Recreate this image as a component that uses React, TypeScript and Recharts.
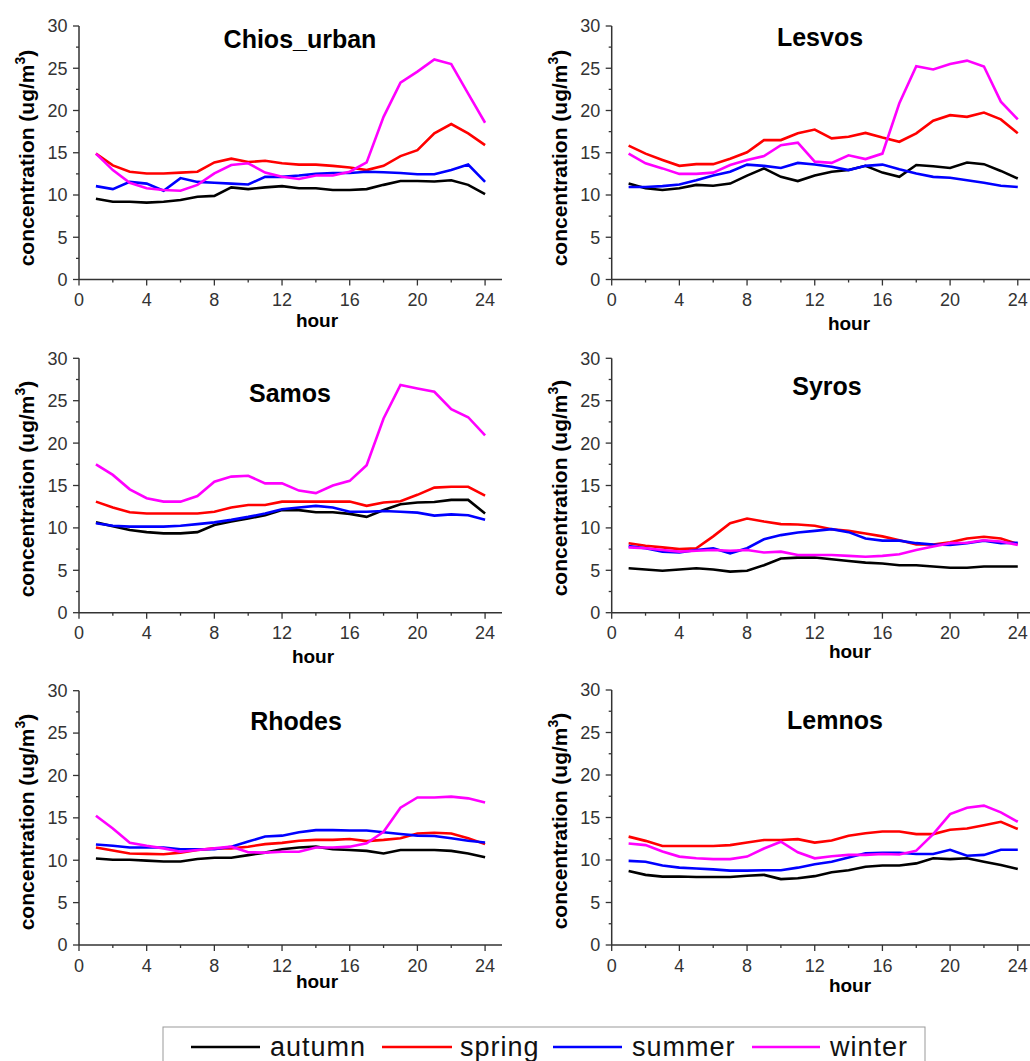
import { LineChart, Line, XAxis, YAxis } from 'recharts';

const hours = [1, 2, 3, 4, 5, 6, 7, 8, 9, 10, 11, 12, 13, 14, 15, 16, 17, 18, 19, 20, 21, 22, 23, 24];
const seasons = ['autumn', 'spring', 'summer', 'winter'];
const seasonColors = ['#000000', '#ff0000', '#0000ff', '#ff00ff'];
const xTicks = [0, 2, 4, 6, 8, 10, 12, 14, 16, 18, 20, 22, 24];
const yTicks = [0, 2.5, 5, 7.5, 10, 12.5, 15, 17.5, 20, 22.5, 25, 27.5, 30];

// Chios_urban
const chiosAutumn = [9.55, 9.2, 9.2, 9.1, 9.2, 9.4, 9.8, 9.9, 10.9, 10.7, 10.9, 11.05, 10.8, 10.8, 10.6, 10.6, 10.7, 11.2, 11.65, 11.65, 11.6, 11.75, 11.2, 10.1];
const chiosSpring = [14.9, 13.5, 12.75, 12.55, 12.55, 12.65, 12.75, 13.85, 14.3, 13.9, 14.05, 13.75, 13.6, 13.6, 13.45, 13.25, 12.95, 13.45, 14.6, 15.3, 17.3, 18.4, 17.3, 15.9];
const chiosSummer = [11.05, 10.7, 11.55, 11.35, 10.5, 12.0, 11.55, 11.45, 11.35, 11.25, 12.15, 12.15, 12.3, 12.5, 12.6, 12.6, 12.75, 12.7, 12.6, 12.45, 12.45, 12.95, 13.6, 11.55];
const chiosWinter = [14.9, 12.95, 11.45, 10.8, 10.6, 10.5, 11.2, 12.55, 13.55, 13.75, 12.65, 12.15, 11.9, 12.3, 12.3, 12.75, 13.85, 19.25, 23.3, 24.6, 26.05, 25.5, 22.0, 18.55];

// Lesvos
const lesvosAutumn = [11.35, 10.8, 10.6, 10.8, 11.2, 11.1, 11.35, 12.3, 13.15, 12.15, 11.65, 12.3, 12.75, 12.95, 13.45, 12.65, 12.15, 13.55, 13.4, 13.2, 13.85, 13.65, 12.85, 11.95];
const lesvosSpring = [15.85, 14.9, 14.15, 13.45, 13.65, 13.65, 14.3, 15.05, 16.5, 16.5, 17.3, 17.75, 16.7, 16.9, 17.35, 16.8, 16.3, 17.3, 18.8, 19.45, 19.25, 19.75, 18.95, 17.3];
const lesvosSummer = [10.95, 10.95, 11.05, 11.25, 11.75, 12.3, 12.75, 13.6, 13.45, 13.2, 13.8, 13.6, 13.35, 12.95, 13.45, 13.6, 13.05, 12.55, 12.15, 12.05, 11.75, 11.45, 11.1, 10.95];
const lesvosWinter = [14.9, 13.75, 13.15, 12.5, 12.5, 12.65, 13.55, 14.15, 14.6, 15.9, 16.2, 13.95, 13.8, 14.7, 14.25, 14.9, 20.85, 25.25, 24.85, 25.5, 25.9, 25.2, 21.05, 18.95];

// Samos
const samosAutumn = [10.65, 10.2, 9.75, 9.5, 9.35, 9.35, 9.5, 10.35, 10.75, 11.1, 11.5, 12.1, 12.1, 11.85, 11.85, 11.65, 11.3, 12.1, 12.8, 13.0, 13.05, 13.3, 13.3, 11.7];
const samosSpring = [13.1, 12.4, 11.85, 11.7, 11.7, 11.7, 11.7, 11.9, 12.4, 12.7, 12.7, 13.1, 13.1, 13.1, 13.1, 13.1, 12.6, 13.0, 13.15, 13.9, 14.75, 14.85, 14.85, 13.8];
const samosSummer = [10.55, 10.25, 10.15, 10.15, 10.15, 10.25, 10.45, 10.65, 10.95, 11.3, 11.7, 12.2, 12.4, 12.6, 12.4, 11.9, 11.9, 12.0, 11.9, 11.8, 11.45, 11.6, 11.5, 10.95];
const samosWinter = [17.5, 16.25, 14.55, 13.5, 13.1, 13.1, 13.75, 15.45, 16.05, 16.15, 15.25, 15.25, 14.4, 14.1, 15.0, 15.55, 17.4, 22.9, 26.85, 26.45, 26.05, 24.0, 23.05, 20.9];

// Syros
const syrosAutumn = [5.25, 5.1, 4.95, 5.1, 5.25, 5.1, 4.85, 4.95, 5.6, 6.4, 6.5, 6.5, 6.3, 6.1, 5.9, 5.8, 5.6, 5.6, 5.45, 5.3, 5.3, 5.45, 5.45, 5.45];
const syrosSpring = [8.2, 7.9, 7.7, 7.5, 7.6, 9.0, 10.55, 11.1, 10.75, 10.45, 10.4, 10.25, 9.85, 9.65, 9.35, 9.0, 8.55, 8.05, 8.05, 8.3, 8.75, 8.95, 8.75, 8.1];
const syrosSummer = [7.85, 7.6, 7.2, 7.1, 7.4, 7.6, 7.0, 7.6, 8.65, 9.15, 9.45, 9.65, 9.85, 9.5, 8.75, 8.5, 8.5, 8.2, 8.05, 8.0, 8.2, 8.5, 8.2, 8.25];
const syrosWinter = [7.7, 7.6, 7.4, 7.2, 7.3, 7.4, 7.3, 7.4, 7.1, 7.2, 6.8, 6.8, 6.8, 6.7, 6.6, 6.7, 6.9, 7.4, 7.8, 8.2, 8.25, 8.55, 8.4, 8.0];

// Rhodes
const rhodesAutumn = [10.2, 10.05, 10.05, 9.95, 9.85, 9.85, 10.15, 10.3, 10.3, 10.6, 10.9, 11.3, 11.5, 11.6, 11.3, 11.2, 11.1, 10.8, 11.2, 11.2, 11.2, 11.1, 10.8, 10.35];
const rhodesSpring = [11.5, 11.15, 10.8, 10.75, 10.7, 10.9, 11.2, 11.4, 11.4, 11.6, 11.9, 12.05, 12.3, 12.4, 12.4, 12.5, 12.25, 12.4, 12.6, 13.15, 13.25, 13.15, 12.6, 11.9];
const rhodesSummer = [11.85, 11.7, 11.5, 11.5, 11.5, 11.3, 11.3, 11.3, 11.6, 12.2, 12.8, 12.9, 13.3, 13.55, 13.55, 13.5, 13.5, 13.3, 13.1, 12.9, 12.85, 12.6, 12.3, 12.1];
const rhodesWinter = [15.25, 13.75, 12.05, 11.7, 11.4, 11.0, 11.2, 11.4, 11.6, 10.95, 10.9, 11.0, 11.0, 11.5, 11.5, 11.6, 12.0, 13.35, 16.2, 17.4, 17.4, 17.5, 17.3, 16.8];

// Lemnos
const lemnosAutumn = [8.7, 8.25, 8.05, 8.05, 8.0, 8.0, 8.0, 8.15, 8.25, 7.75, 7.85, 8.1, 8.55, 8.8, 9.2, 9.35, 9.35, 9.6, 10.2, 10.1, 10.2, 9.8, 9.4, 8.95];
const lemnosSpring = [12.75, 12.25, 11.65, 11.65, 11.65, 11.65, 11.75, 12.05, 12.35, 12.35, 12.45, 12.05, 12.3, 12.85, 13.15, 13.35, 13.35, 13.05, 13.05, 13.55, 13.7, 14.1, 14.5, 13.65];
const lemnosSummer = [9.9, 9.8, 9.35, 9.1, 9.0, 8.9, 8.75, 8.75, 8.8, 8.8, 9.1, 9.5, 9.8, 10.3, 10.8, 10.85, 10.85, 10.7, 10.7, 11.2, 10.5, 10.6, 11.2, 11.2];
const lemnosWinter = [11.95, 11.75, 11.0, 10.4, 10.2, 10.1, 10.1, 10.4, 11.35, 12.15, 10.9, 10.2, 10.45, 10.6, 10.6, 10.7, 10.65, 11.1, 13.05, 15.4, 16.15, 16.4, 15.6, 14.5];

type Panel = {
  name: string;
  series: number[][];
  left: number;
  top: number;
  width: number;
  plotLeft: number;
  plotTop: number;
  plotBottom: number;
  titleX: number;
  titleY: number;
  hourX: number;
  hourY: number;
  yLabelX: number;
  yLabelY: number;
};

const panels: Panel[] = [
  { name: 'Chios_urban', series: [chiosAutumn, chiosSpring, chiosSummer, chiosWinter], left: 0, top: 0, width: 515, plotLeft: 79, plotTop: 26, plotBottom: 279.5, titleX: 300, titleY: 48, hourX: 317, hourY: 327, yLabelX: 33.5, yLabelY: 158 },
  { name: 'Lesvos', series: [lesvosAutumn, lesvosSpring, lesvosSummer, lesvosWinter], left: 515, top: 0, width: 530, plotLeft: 96.7, plotTop: 26, plotBottom: 279.5, titleX: 820, titleY: 46, hourX: 849, hourY: 330, yLabelX: 567, yLabelY: 158 },
  { name: 'Samos', series: [samosAutumn, samosSpring, samosSummer, samosWinter], left: 0, top: 330, width: 515, plotLeft: 79, plotTop: 28.3, plotBottom: 282.7, titleX: 290, titleY: 402, hourX: 313, hourY: 663, yLabelX: 33.5, yLabelY: 489 },
  { name: 'Syros', series: [syrosAutumn, syrosSpring, syrosSummer, syrosWinter], left: 515, top: 330, width: 530, plotLeft: 96.7, plotTop: 28.3, plotBottom: 282.7, titleX: 827, titleY: 395, hourX: 850, hourY: 658, yLabelX: 567, yLabelY: 488 },
  { name: 'Rhodes', series: [rhodesAutumn, rhodesSpring, rhodesSummer, rhodesWinter], left: 0, top: 660, width: 515, plotLeft: 79, plotTop: 30.7, plotBottom: 285, titleX: 296, titleY: 730, hourX: 317, hourY: 988, yLabelX: 33.5, yLabelY: 822 },
  { name: 'Lemnos', series: [lemnosAutumn, lemnosSpring, lemnosSummer, lemnosWinter], left: 515, top: 660, width: 530, plotLeft: 96.7, plotTop: 30, plotBottom: 285, titleX: 835, titleY: 729, hourX: 850, hourY: 992, yLabelX: 567, yLabelY: 821 },
];

const AXIS = '#333333';
const FONT = '"Liberation Sans", Arial, Helvetica, sans-serif';

function XTick(props: any) {
  const { x, y, payload } = props;
  const v = payload.value;
  const major = v % 4 === 0;
  return (
    <g>
      <line x1={x} x2={x} y1={y} y2={y + (major ? 6 : 3)} stroke={AXIS} strokeWidth={1.3} />
      {major && (
        <text x={x} y={y + 26.5} textAnchor="middle" fontSize={18} fill={AXIS}>
          {v}
        </text>
      )}
    </g>
  );
}

function YTick(props: any) {
  const { x, y, payload } = props;
  const v = payload.value;
  const major = v % 5 === 0;
  return (
    <g>
      <line x1={x} x2={x - (major ? 6 : 3)} y1={y} y2={y} stroke={AXIS} strokeWidth={1.3} />
      {major && (
        <text x={x - 11.5} y={y + 6.4} textAnchor="end" fontSize={18} fill={AXIS}>
          {v}
        </text>
      )}
    </g>
  );
}

function StationChart({ p }: { p: Panel }) {
  const data = hours.map((h, i) => ({
    hour: h,
    autumn: p.series[0][i],
    spring: p.series[1][i],
    summer: p.series[2][i],
    winter: p.series[3][i],
  }));
  const plotWidth = 423;
  const height = 330;
  return (
    <div style={{ position: 'absolute', left: p.left, top: p.top }}>
      <LineChart
        width={p.width}
        height={height}
        data={data}
        margin={{
          top: p.plotTop,
          left: 0,
          right: p.width - p.plotLeft - plotWidth,
          bottom: height - p.plotBottom - 30,
        }}
      >
        <XAxis
          dataKey="hour"
          type="number"
          domain={[0, 25]}
          ticks={xTicks}
          interval={0}
          height={30}
          tickSize={0}
          tickMargin={0}
          tick={<XTick />}
          axisLine={{ stroke: AXIS, strokeWidth: 1.5 }}
          allowDataOverflow
        />
        <YAxis
          type="number"
          domain={[0, 30]}
          ticks={yTicks}
          interval={0}
          width={p.plotLeft}
          tickSize={0}
          tickMargin={0}
          tick={<YTick />}
          axisLine={{ stroke: AXIS, strokeWidth: 1.5 }}
          allowDataOverflow
        />
        {seasons.map((s, i) => (
          <Line
            key={s}
            type="linear"
            dataKey={s}
            stroke={seasonColors[i]}
            strokeWidth={2.6}
            dot={false}
            activeDot={false}
            isAnimationActive={false}
          />
        ))}
      </LineChart>
    </div>
  );
}

const legendLines = [
  [191, 260],
  [382, 452],
  [553, 622],
  [752, 820],
];
const legendTextX = [270, 460, 632, 830];

export default function App() {
  return (
    <div
      style={{
        position: 'absolute',
        left: 0,
        top: 0,
        width: 1030,
        height: 1061,
        overflow: 'hidden',
        background: '#ffffff',
        fontFamily: FONT,
      }}
    >
      {panels.map((p) => (
        <StationChart key={p.name} p={p} />
      ))}
      <svg
        width={1030}
        height={1061}
        style={{ position: 'absolute', left: 0, top: 0, pointerEvents: 'none', fontFamily: FONT }}
      >
        {panels.map((p) => (
          <g key={p.name}>
            <text x={p.titleX} y={p.titleY} textAnchor="middle" fontSize={25} fontWeight="bold" fill="#000">
              {p.name}
            </text>
            <text x={p.hourX} y={p.hourY} textAnchor="middle" fontSize={19} fontWeight="bold" fill="#000">
              hour
            </text>
            <text
              x={p.yLabelX}
              y={p.yLabelY}
              transform={`rotate(-90, ${p.yLabelX}, ${p.yLabelY})`}
              textAnchor="middle"
              fontSize={21}
              fontWeight="bold"
              fill="#000"
            >
              concentration (ug/m
              <tspan dy={-9} fontSize={14}>
                3
              </tspan>
              <tspan dy={9}>)</tspan>
            </text>
          </g>
        ))}
        <rect x={163} y={1027} width={762} height={60} fill="none" stroke="#999" strokeWidth={1} />
        {seasons.map((s, i) => (
          <g key={s}>
            <line
              x1={legendLines[i][0]}
              x2={legendLines[i][1]}
              y1={1047}
              y2={1047}
              stroke={seasonColors[i]}
              strokeWidth={2.6}
            />
            <text x={legendTextX[i]} y={1055.5} fontSize={27} letterSpacing={1} fill="#111">
              {s}
            </text>
          </g>
        ))}
      </svg>
    </div>
  );
}
